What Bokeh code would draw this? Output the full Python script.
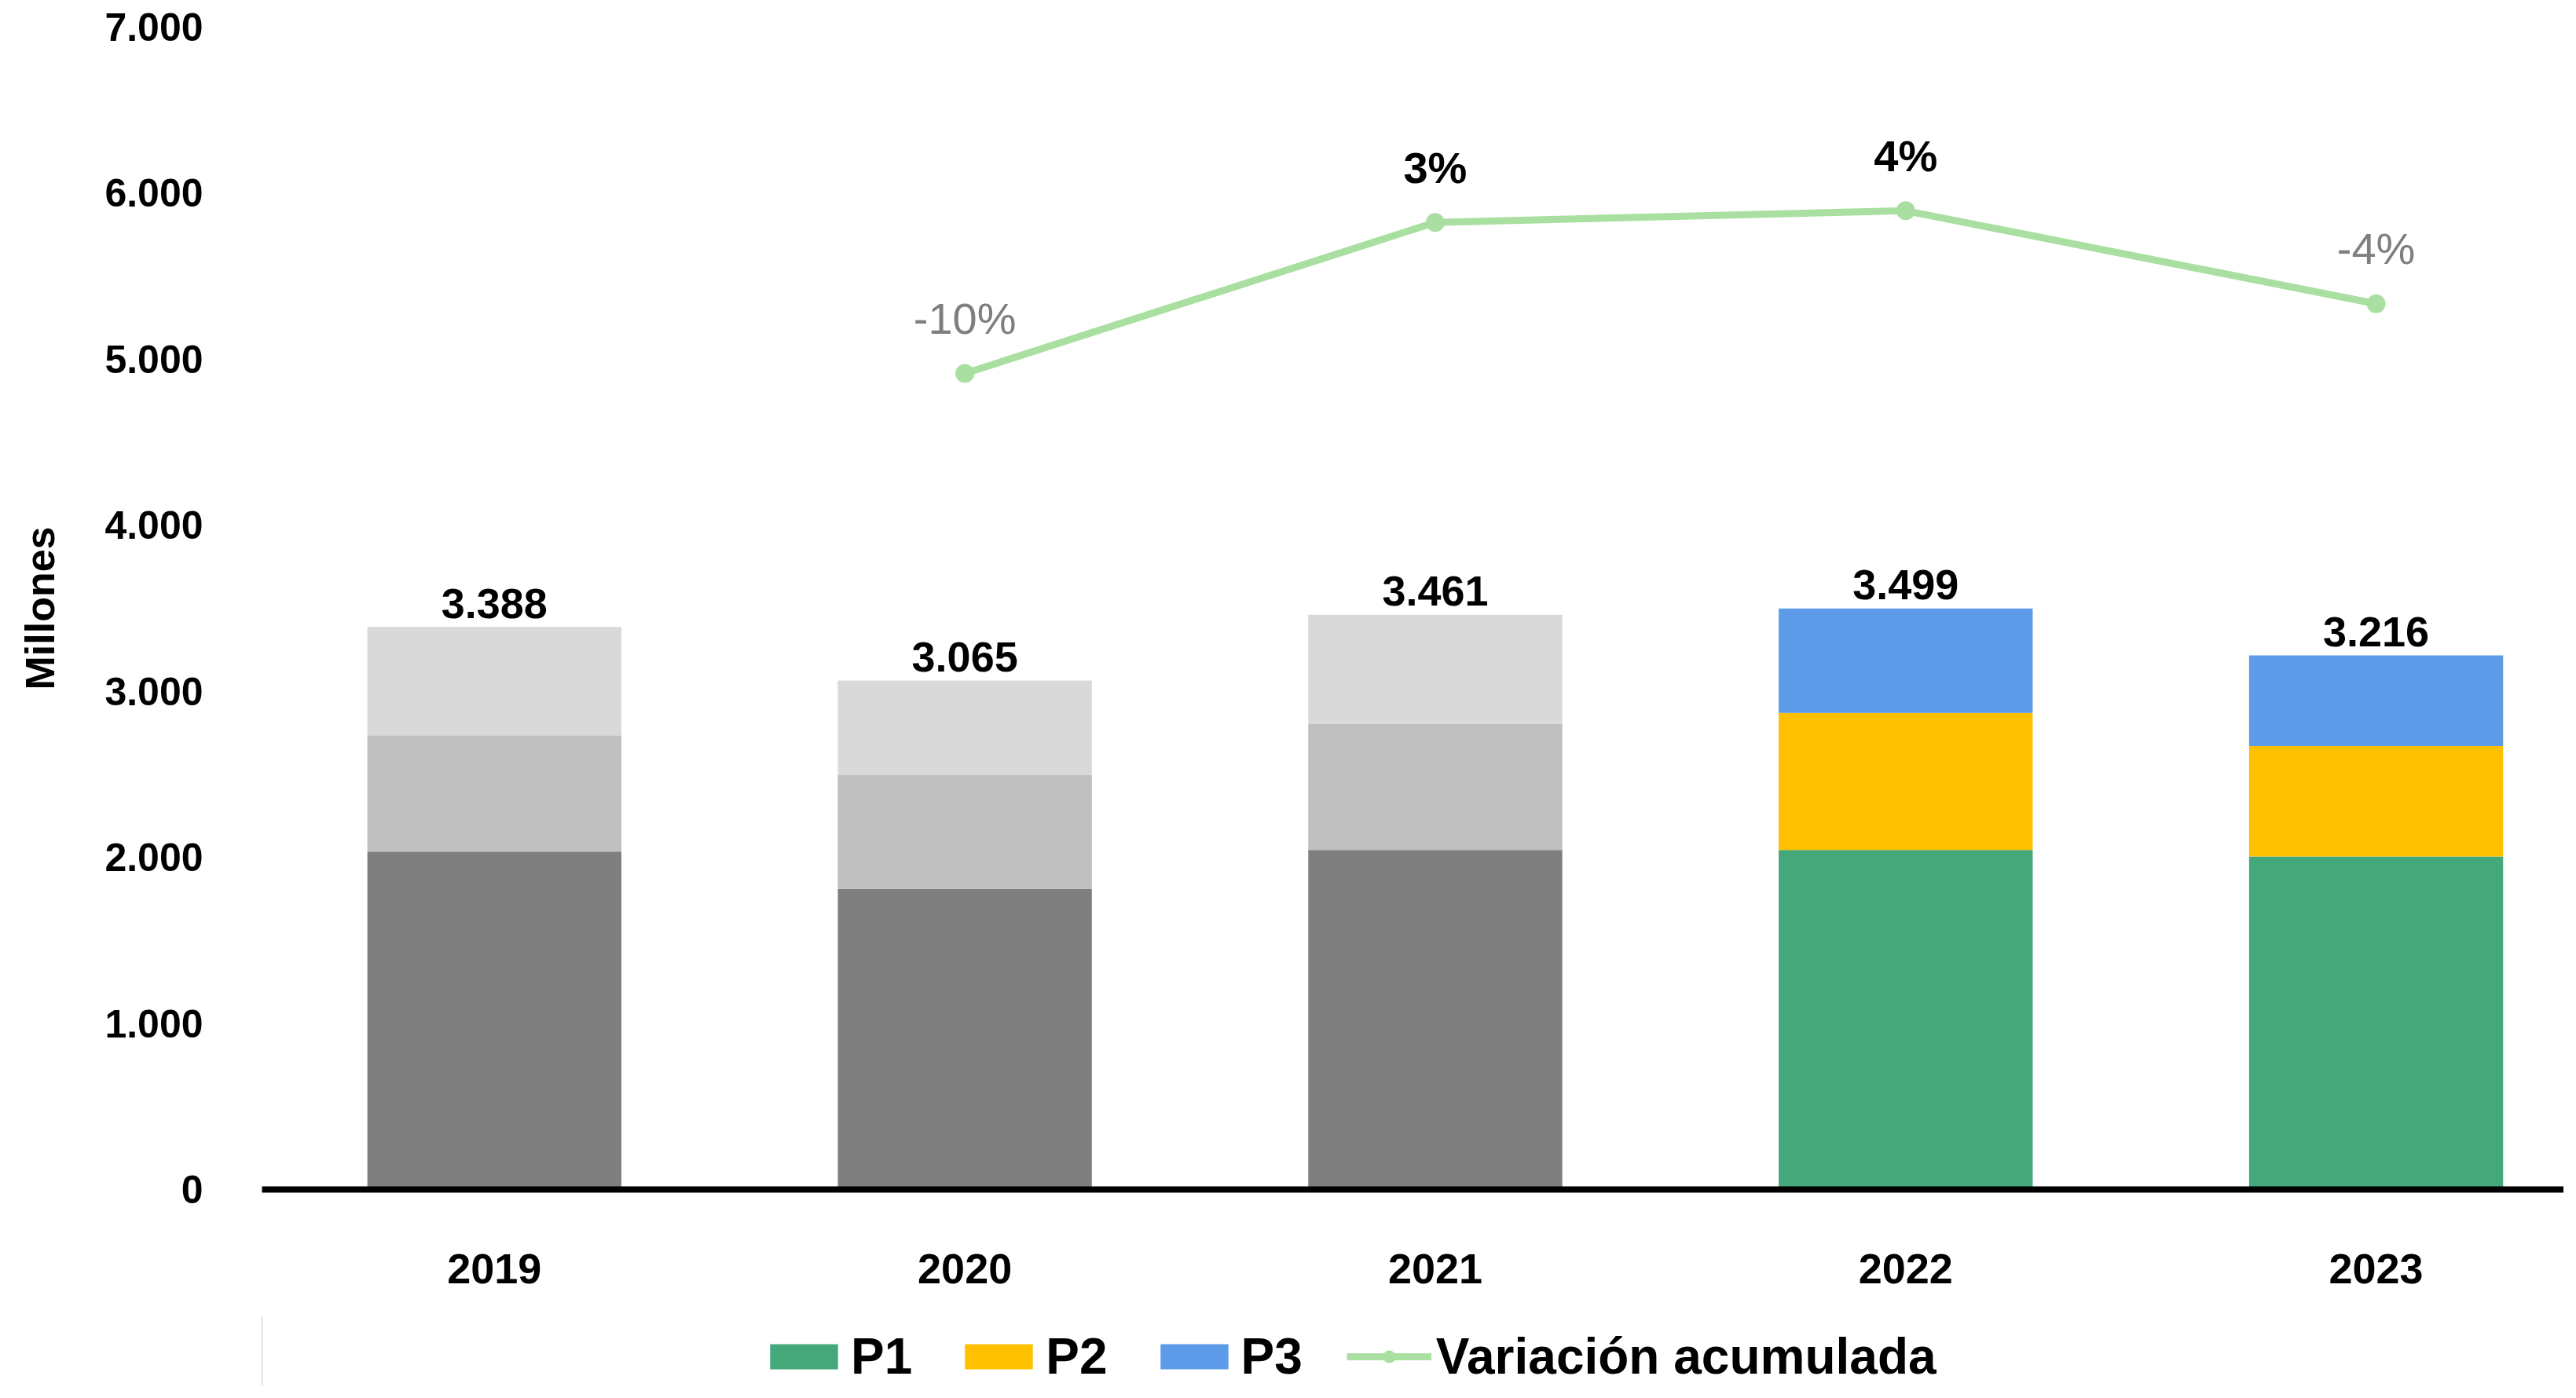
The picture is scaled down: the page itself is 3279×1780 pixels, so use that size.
from bokeh.plotting import figure
from bokeh.layouts import column
from bokeh.models import ColumnDataSource, Range1d, FixedTicker, Legend, LegendItem
from bokeh.core.properties import value
from bokeh.embed import file_html
from bokeh.resources import INLINE

# ---------------- data ----------------
years = ["2019", "2020", "2021", "2022", "2023"]
p1 = [2035, 1810, 2045, 2045, 2005]
p2 = [700, 685, 760, 825, 665]
p3 = [653, 570, 656, 629, 546]
totals = [3388, 3065, 3461, 3499, 3216]
total_labels = ["3.388", "3.065", "3.461", "3.499", "3.216"]
var_years = ["2020", "2021", "2022", "2023"]
var_pct = [-10, 3, 4, -4]
var_labels = ["-10%", "3%", "4%", "-4%"]
y_ticks = [0, 1000, 2000, 3000, 4000, 5000, 6000, 7000]
series_names = ["P1", "P2", "P3"]
legend_line_name = "Variación acumulada"
y_axis_title = "Millones"

# ---------------- styles ----------------
FONT = "Liberation Sans"
grey_cols = ["#7f7f7f", "#bfbfbf", "#d9d9d9"]
main_cols = ["#45a87b", "#ffc000", "#5d9be9"]
first_colored = "2022"
line_col = "#a9dfa0"

xs = list(range(len(years)))
x_of = {y: i for i, y in enumerate(years)}

W = 3263
H_MAIN = 1676
H_LEG = 88

p = figure(width=W, height=H_MAIN, output_backend="svg", toolbar_location=None,
           x_range=Range1d(-0.494, 4.399), y_range=Range1d(0, 7000),
           min_border_left=333, min_border_right=0, min_border_top=34,
           min_border_bottom=H_MAIN - 1514)
p.extra_y_ranges = {"pct": Range1d(-80.2, 19.8)}
p.background_fill_color = "white"
p.border_fill_color = "white"
p.outline_line_color = None
p.xgrid.visible = False
p.ygrid.visible = False

series = [p1, p2, p3]
bottoms = [0] * len(years)
for k, vals in enumerate(series):
    tops = [b + v for b, v in zip(bottoms, vals)]
    cols = [main_cols[k] if y >= first_colored else grey_cols[k] for y in years]
    src = ColumnDataSource(dict(x=xs, bottom=bottoms, top=tops, color=cols))
    p.vbar(x="x", bottom="bottom", top="top", width=0.54, source=src,
           fill_color="color", line_color=None)
    bottoms = tops

# total labels
p.text(x=xs, y=totals, text=total_labels, text_font=value(FONT), text_font_style="bold",
       text_font_size=value("54px"), text_color="black", text_align="center",
       text_baseline="middle", y_offset=-30)

# variation line
vx = [x_of[y] for y in var_years]
p.line(vx, var_pct, y_range_name="pct", line_color=line_col, line_width=9)
p.scatter(vx, var_pct, y_range_name="pct", size=24, fill_color=line_col, line_color=None)
vcols = ["#7f7f7f" if v < 0 else "black" for v in var_pct]
vstyle = ["normal" if v < 0 else "bold" for v in var_pct]
src_v = ColumnDataSource(dict(x=vx, y=var_pct, t=var_labels, c=vcols, s=vstyle))
p.text(x="x", y="y", text="t", source=src_v, y_range_name="pct", text_font=value(FONT),
       text_font_style="s", text_font_size=value("56px"), text_color="c",
       text_align="center", text_baseline="middle", y_offset=-70)

# axes
xa = p.xaxis[0]
xa.ticker = FixedTicker(ticks=xs)
xa.major_label_overrides = {i: y for i, y in enumerate(years)}
xa.axis_line_width = 8
xa.axis_line_color = "black"
xa.major_tick_line_color = None
xa.minor_tick_line_color = None
xa.major_label_text_font = FONT
xa.major_label_text_font_style = "bold"
xa.major_label_text_font_size = "54px"
xa.major_label_text_color = "black"
xa.major_label_standoff = 76

ya = p.yaxis[0]
ya.ticker = FixedTicker(ticks=y_ticks)
ya.major_label_overrides = {t: f"{t:,}".replace(",", ".") for t in y_ticks}
ya.axis_line_color = None
ya.major_tick_line_color = None
ya.minor_tick_line_color = None
ya.major_label_text_font = FONT
ya.major_label_text_font_style = "bold"
ya.major_label_text_font_size = "50px"
ya.major_label_text_color = "black"
ya.major_label_standoff = 69
ya.axis_label = y_axis_title
ya.axis_label_text_font = FONT
ya.axis_label_text_font_style = "bold"
ya.axis_label_text_font_size = "52px"
ya.axis_label_text_color = "black"
ya.axis_label_standoff = 50

# ---------------- legend strip ----------------
lg = figure(width=W, height=H_LEG, output_backend="svg", toolbar_location=None,
            x_range=Range1d(0, 1), y_range=Range1d(0, 1),
            min_border=0, x_axis_type=None, y_axis_type=None)
lg.outline_line_color = None
lg.background_fill_color = None
lg.border_fill_color = None
lg.xgrid.visible = False
lg.ygrid.visible = False
items = []
for k, n in enumerate(series_names):
    r = lg.vbar(x=[-5], top=[1], width=0.1, fill_color=main_cols[k], line_color=None)
    items.append(LegendItem(label=n, renderers=[r]))
lr = lg.line([-5, -4], [0.5, 0.5], line_color=line_col, line_width=9)
sr = lg.scatter([-5], [0.5], size=24, fill_color=line_col, line_color=None)
items.append(LegendItem(label=legend_line_name, renderers=[lr, sr]))
legend = Legend(items=items, orientation="horizontal", location=(636, 0),
                label_text_font=FONT, label_text_font_style="bold",
                label_text_font_size="64px", label_text_color="black",
                glyph_width=108, glyph_height=40, label_standoff=6, spacing=56,
                padding=0, margin=0, border_line_color=None, background_fill_alpha=0)
lg.add_layout(legend, "center")

layout = column(p, lg, spacing=0)
open("out.html", "w").write(file_html(layout, INLINE))
